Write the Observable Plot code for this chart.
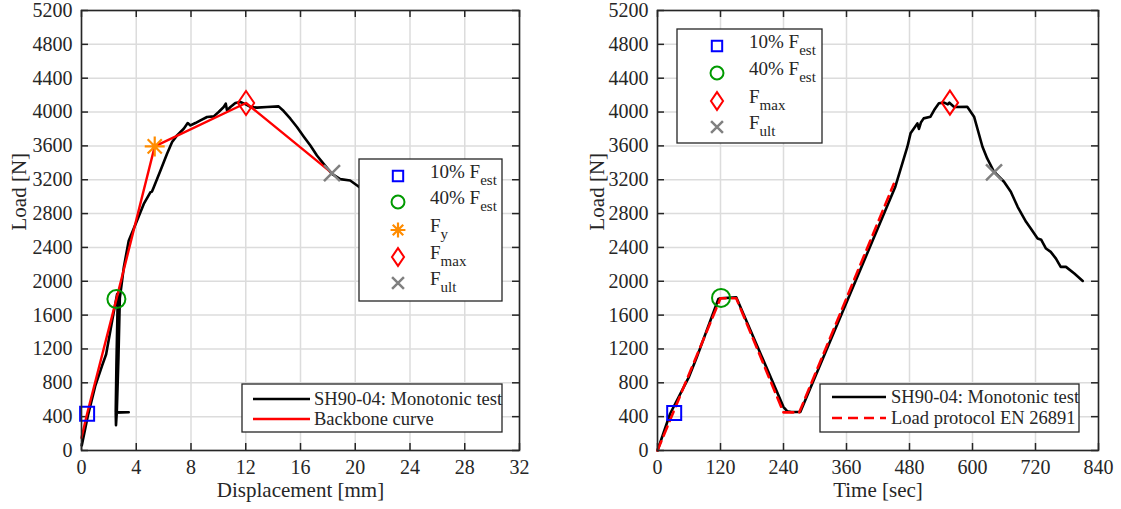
<!DOCTYPE html>
<html><head><meta charset="utf-8">
<script src="https://cdn.jsdelivr.net/npm/d3@7"></script>
<script src="https://cdn.jsdelivr.net/npm/@observablehq/plot@0.6"></script>
<style>
body{margin:0;background:#fff;}
#wrap{display:flex;width:1121px;height:509px;}
#wrap svg, #wrap svg text{font-family:"Liberation Serif", "Times New Roman", serif !important;}
</style></head><body><div id="wrap"></div>
<script>
// ---------- data ----------
const dispTicks = [0,4,8,12,16,20,24,28,32];
const timeTicks = [0,120,240,360,480,600,720,840];
const loadTicks = [0,400,800,1200,1600,2000,2400,2800,3200,3600,4000,4400,4800,5200];

// Monotonic test: load vs displacement
const testDisp = [0.02,0.45,1.0,1.5,1.8,2.24,2.6,2.65,2.55,2.5,3.45,2.5,2.52,2.58,2.7,2.8,3.09,3.45,4.06,4.55,5.04,5.15,5.28,5.77,6.25,6.62,6.98,7.47,7.76,7.96,8.32,8.69,9.17,9.66,10.02,10.39,10.54,10.63,10.88,11.24,11.61,12.0,12.34,12.82,13.55,14.4,14.77,15.26,15.74,16.23,16.72,17.2,17.69,18.3,18.9,19.63,20.24,21.0,22.0,23.0,24.0,25.0,26.0];
const testLoadD = [60,400,760,1000,1137,1532,1848,1820,1000,455,452,448,300,460,1100,1800,2164,2480,2717,2914,3053,3060,3112,3309,3507,3645,3724,3803,3870,3842,3870,3902,3941,3949,4000,4060,4099,4020,4060,4107,4119,4090,4060,4052,4060,4067,4012,3921,3823,3712,3605,3487,3388,3270,3207,3191,3120,3050,2900,2700,2500,2300,2150];

// Backbone curve
const backboneDisp = [0,0.41,2.55,5.35,12.02,18.3];
const backboneLoad = [150,434,1789,3594,4107,3278];

// Characteristic points
const keyNamesD = ["10% Fest","40% Fest","Fy","Fmax","Fult"];
const keyDisp = [0.41,2.55,5.35,12.02,18.3];
const keyLoadD = [434,1789,3594,4107,3278];

// Monotonic test: load vs time
const testTime = [0,24,60,75,116,120,150,240,247,255,272,453,455,476,482,490,495,498,502,507,520,527,536,546,553,556,565,590,603,619,628,641,660,673,686,702,711,724,731,740,749,759,768,778,794,810];
const testLoadT = [0,434,870,1105,1790,1800,1810,513,465,455,455,3117,3160,3590,3748,3820,3866,3800,3880,3925,3945,4024,4103,4111,4090,4110,4060,4063,3945,3590,3452,3294,3176,3057,2880,2702,2623,2505,2490,2387,2347,2268,2170,2170,2091,2004];

// Load protocol EN 26891
const protocolTime = [0,120,150,240,270,450];
const protocolLoad = [0,1800,1800,450,450,3150];

const keyNamesT = ["10% Fest","40% Fest","Fmax","Fult"];
const keyTime = [31.8,121,557,641];
const keyLoadT = [442,1803,4111,3286];

// ---------- symbols ----------
const rOf = size => Math.sqrt(size/Math.PI);
const symSquare = {draw(c,s){const r=rOf(s); c.moveTo(-r,-r); c.lineTo(r,-r); c.lineTo(r,r); c.lineTo(-r,r); c.closePath();}};
const symDiamond = {draw(c,s){const r=rOf(s), w=r*0.68; c.moveTo(0,-r); c.lineTo(w,0); c.lineTo(0,r); c.lineTo(-w,0); c.closePath();}};
const symStar = {draw(c,s){const r=rOf(s), q=r*0.7071; c.moveTo(-r,0); c.lineTo(r,0); c.moveTo(0,-r); c.lineTo(0,r); c.moveTo(-q,-q); c.lineTo(q,q); c.moveTo(-q,q); c.lineTo(q,-q);}};
const symTimes = {draw(c,s){const r=rOf(s); c.moveTo(-r,-r); c.lineTo(r,r); c.moveTo(-r,r); c.lineTo(r,-r);}};

const style = {
  blue:{symbol:symSquare, r:7, stroke:"#0000ff", sw:2},
  green:{symbol:"circle", r:9, stroke:"#009a00", sw:2},
  orange:{symbol:symStar, r:10, stroke:"#ff8c00", sw:2.2},
  red:{symbol:symDiamond, r:12, stroke:"#ff0000", sw:2},
  gray:{symbol:symTimes, r:8, stroke:"#808080", sw:2.5}
};
const keyStylesD = [style.blue, style.green, style.orange, style.red, style.gray];
const keyStylesT = [style.blue, style.green, style.red, style.gray];

const INK = "#262626";
const FONT = "'Liberation Serif', 'Times New Roman', serif";

function frameMarks(xTicks, plotW, plotH, xLabel, yLabelDx) {
  return [
    Plot.ruleX(xTicks, {stroke:"#dcdcdc", strokeWidth:1.5}),
    Plot.ruleY(loadTicks, {stroke:"#dcdcdc", strokeWidth:1.5}),
    Plot.tickX(xTicks, {x:d=>d, insetTop:plotH-7, stroke:INK, strokeWidth:1.5}),
    Plot.tickX(xTicks, {x:d=>d, insetBottom:plotH-7, stroke:INK, strokeWidth:1.5}),
    Plot.tickY(loadTicks, {y:d=>d, insetRight:plotW-7, stroke:INK, strokeWidth:1.5}),
    Plot.tickY(loadTicks, {y:d=>d, insetLeft:plotW-7, stroke:INK, strokeWidth:1.5}),
    Plot.axisX(xTicks, {tickSize:0, tickPadding:9, tickFormat:d=>String(d), label:null, fontSize:20}),
    Plot.axisY(loadTicks, {tickSize:0, tickPadding:9, tickFormat:d=>String(d), label:null, fontSize:20}),
    Plot.text([xLabel], {frameAnchor:"bottom", dy:46, fontSize:21, fill:INK}),
    Plot.text(["Load [N]"], {frameAnchor:"left", dx:yLabelDx, rotate:-90, fontSize:21, fill:INK})
  ];
}

function keyDots(xs, ys, styles) {
  return styles.map((st,i) => Plot.dot([i], {x:()=>xs[i], y:()=>ys[i], symbol:st.symbol, r:st.r, stroke:st.stroke, strokeWidth:st.sw, fill:"none"}));
}

const plotStyle = `font-family:${FONT};font-size:20px;color:${INK};background:white;`;

// ---------- left chart ----------
const L = {w:560, h:509, ml:81, mr:41, mt:10, mb:59};
const leftIdx = d3.range(testDisp.length);
const bbIdx = d3.range(backboneDisp.length);
const left = Plot.plot({
  width:L.w, height:L.h, marginLeft:L.ml, marginRight:L.mr, marginTop:L.mt, marginBottom:L.mb,
  style:plotStyle,
  x:{domain:[0,32]}, y:{domain:[0,5200]},
  marks:[
    ...frameMarks(dispTicks, L.w-L.ml-L.mr, L.h-L.mt-L.mb, "Displacement [mm]", -62),
    Plot.line(leftIdx, {x:i=>testDisp[i], y:i=>testLoadD[i], stroke:"#000", strokeWidth:2.6}),
    Plot.line(bbIdx, {x:i=>backboneDisp[i], y:i=>backboneLoad[i], stroke:"#ff0000", strokeWidth:2.4}),
    ...keyDots(keyDisp, keyLoadD, keyStylesD),
    Plot.frame({stroke:INK, strokeWidth:1.6})
  ]
});

// ---------- right chart ----------
const R = {w:561, h:509, ml:97, mr:23, mt:10, mb:59};
const rightIdx = d3.range(testTime.length);
const protIdx = d3.range(protocolTime.length);
const right = Plot.plot({
  width:R.w, height:R.h, marginLeft:R.ml, marginRight:R.mr, marginTop:R.mt, marginBottom:R.mb,
  style:plotStyle,
  x:{domain:[0,840]}, y:{domain:[0,5200]},
  marks:[
    ...frameMarks(timeTicks, R.w-R.ml-R.mr, R.h-R.mt-R.mb, "Time [sec]", -60),
    Plot.line(rightIdx, {x:i=>testTime[i], y:i=>testLoadT[i], stroke:"#000", strokeWidth:2.6}),
    Plot.line(protIdx, {x:i=>protocolTime[i], y:i=>protocolLoad[i], stroke:"#ff0000", strokeWidth:2.6, strokeDasharray:"10,6"}),
    ...keyDots(keyTime, keyLoadT, keyStylesT),
    Plot.frame({stroke:INK, strokeWidth:1.6})
  ]
});

// ---------- legends (drawn into the svg) ----------
function markerLegend(svg, box, mx, tx, rows, names, styles) {
  const g = d3.select(svg).append("g");
  g.append("rect").attr("x",box[0]).attr("y",box[1]).attr("width",box[2]-box[0]).attr("height",box[3]-box[1])
    .attr("fill","white").attr("stroke",INK).attr("stroke-width",1.3);
  names.forEach((nm,i) => {
    const st = styles[i], y = rows[i];
    const sz = Math.PI*st.r*st.r*0.55;
    if (st.symbol === "circle") {
      g.append("circle").attr("cx",mx).attr("cy",y).attr("r",st.r*0.72).attr("fill","none").attr("stroke",st.stroke).attr("stroke-width",st.sw);
    } else {
      g.append("path").attr("transform",`translate(${mx},${y})`).attr("d",d3.symbol(st.symbol, sz)())
        .attr("fill","none").attr("stroke",st.stroke).attr("stroke-width",st.sw);
    }
    const m = nm.match(/^(.*F)(.*)$/);
    const t = g.append("text").attr("x",tx).attr("y",y+2).attr("font-size",19).attr("fill",INK)
      .attr("text-anchor","start").attr("font-family",FONT);
    t.append("tspan").text(m[1]);
    t.append("tspan").attr("dy",7).attr("font-size",15).text(m[2]);
  });
}
function lineLegend(svg, box, x1, x2, tx, rows, names, strokes, dashes) {
  const g = d3.select(svg).append("g");
  g.append("rect").attr("x",box[0]).attr("y",box[1]).attr("width",box[2]-box[0]).attr("height",box[3]-box[1])
    .attr("fill","white").attr("stroke",INK).attr("stroke-width",1.3);
  names.forEach((nm,i) => {
    g.append("line").attr("x1",x1).attr("x2",x2).attr("y1",rows[i]).attr("y2",rows[i])
      .attr("stroke",strokes[i]).attr("stroke-width",2.6).attr("stroke-dasharray",dashes[i]);
    g.append("text").attr("x",tx).attr("y",rows[i]+6).attr("font-size",18.5).attr("fill",INK)
      .attr("text-anchor","start").attr("font-family",FONT).text(nm);
  });
}

const lineNamesL = ["SH90-04: Monotonic test","Backbone curve"];
const lineNamesR = ["SH90-04: Monotonic test","Load protocol EN 26891"];

markerLegend(left, [359,159,502,301], 398, 430, [176,202,230,257,283], keyNamesD, keyStylesD);
lineLegend(left, [242,384,502,432], 253, 310, 314, [399,419], lineNamesL, ["#000","#ff0000"], [null,null]);
markerLegend(right, [117,29,262,143], 157, 189, [46,73,101,127], keyNamesT, keyStylesT);
lineLegend(right, [260,384,519,432], 272, 326, 331, [397,418], lineNamesR, ["#000","#ff0000"], [null,"10,6"]);

for (const s of [left, right]) d3.select(s).selectAll("text").style("font-family", FONT);

document.getElementById("wrap").append(left, right);
</script>
</body></html>
